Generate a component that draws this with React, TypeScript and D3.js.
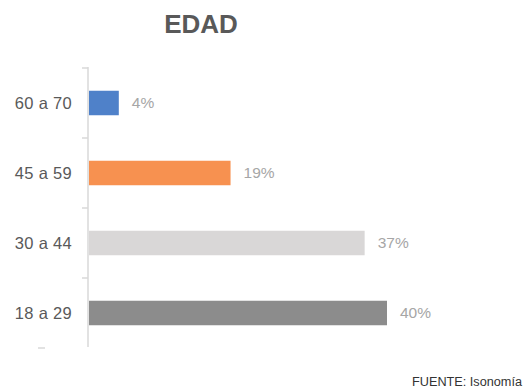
import React from "react";
import * as d3 from "d3";

const categories = ["60 a 70", "45 a 59", "30 a 44", "18 a 29"];
const values = [4, 19, 37, 40];
const colors = ["#4F81C9", "#F79150", "#D9D7D7", "#8C8C8C"];
const title = "EDAD";
const source = "FUENTE: Isonomía";

export default function App() {
  const W = 526, H = 391;
  const x0 = 89;
  const y = d3.scaleBand<string>().domain(categories).range([68, 348]).paddingInner(0.65).paddingOuter(0.325);
  const bandStep = d3.scaleBand<string>().domain(categories).range([68, 348]);
  const x = d3.scaleLinear().domain([0, 40]).range([x0, 387]);
  const ticks = [...categories.map((c) => bandStep(c)!), 348];
  return (
    <svg width={W} height={H} style={{ position: "absolute", left: 0, top: 0, background: "#fff" }}
      fontFamily="Arial, 'Liberation Sans', sans-serif">
      <text x={201} y={33} textAnchor="middle" fontSize={26} fontWeight="bold" fill="#595959">{title}</text>
      <line x1={88} x2={88} y1={67} y2={347} stroke="#D9D9D9" strokeWidth={1.5} />
      {ticks.slice(0, 4).map((t, i) => (
        <line key={i} x1={82} x2={88} y1={t} y2={t} stroke="#D9D9D9" strokeWidth={1.5} />
      ))}
      <line x1={38} x2={45} y1={348} y2={348} stroke="#D9D9D9" strokeWidth={1.5} />
      {categories.map((c, i) => (
        <g key={c}>
          <rect x={x0} y={y(c)!} width={x(values[i]) - x0} height={y.bandwidth()} fill={colors[i]} />
          <text x={72} y={y(c)! + y.bandwidth() / 2} dy="0.35em" textAnchor="end" fontSize={16.5} letterSpacing={0.3} fill="#595959">{c}</text>
          <text x={x(values[i]) + 13} y={y(c)! + y.bandwidth() / 2} dy="0.35em" fontSize={15.5} fill="#A6A6A6">{values[i]}%</text>
        </g>
      ))}
      <text x={412} y={386} fontSize={12} fill="#333" textLength={110} lengthAdjust="spacingAndGlyphs">{source}</text>
    </svg>
  );
}
